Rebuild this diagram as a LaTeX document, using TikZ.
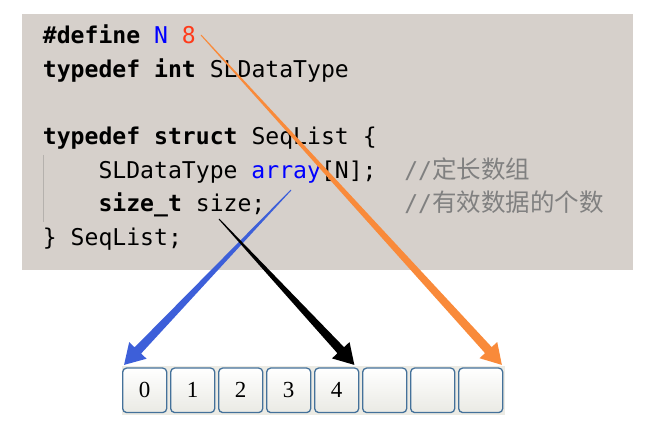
\documentclass[tikz,border=0pt]{standalone}
\usepackage{fontspec}
\setmonofont{DejaVu Sans Mono}
\newfontfamily\cjk{Noto Sans CJK SC}
\newfontfamily\digitfont{Liberation Serif}
\usetikzlibrary{calc}
\definecolor{panel}{HTML}{D6D0CB}
\definecolor{guide}{HTML}{B5B1AD}
\definecolor{kwblue}{HTML}{0000FF}
\definecolor{numred}{HTML}{FF3A1A}
\definecolor{cmtgray}{HTML}{808080}
\definecolor{arrorange}{HTML}{F98A3A}
\definecolor{arrblue}{HTML}{3D5FD9}
\definecolor{cellborder}{HTML}{44719A}
\definecolor{cellbot}{HTML}{EAEAE4}
\definecolor{stripbg}{HTML}{ECEBE4}
\newcommand\taperarrow[3]{%
  \coordinate (hb) at ($(#2)!20pt!(#1)$);
  \fill[#3] ($(#1)!0.5pt!90:(#2)$) -- ($(hb)!4.5pt!90:(#2)$) -- ($(hb)!12pt!90:(#2)$) -- (#2)
    -- ($(hb)!12pt!-90:(#2)$) -- ($(hb)!4.5pt!-90:(#2)$) -- ($(#1)!0.5pt!-90:(#2)$) -- cycle;
}
\tikzset{
  code/.style={anchor=base west, inner sep=0pt, font=\ttfamily\fontsize{23.1}{28}\selectfont},
  cmt/.style={code, text=cmtgray},
  cell/.style={draw=cellborder, line width=1.3pt, rounded corners=4pt, top color=white, bottom color=cellbot,
    minimum width=44pt, minimum height=44.5pt, inner sep=0pt, font=\digitfont\fontsize{23}{26}\selectfont}
}
\begin{document}
\begin{tikzpicture}[x=1pt,y=-1pt]
\useasboundingbox (0,0) rectangle (664,443);
\fill[white] (0,0) rectangle (664,443);
\fill[panel] (22,14) rectangle (633,270);
\draw[guide, line width=1.3pt] (43.3,155) -- (43.3,222);
% code lines
\node[code] (l1) at (42.7,43.5) {\textbf{\#define} {\color{kwblue}N} {\color{numred}8}};
\node[code] (l2) at (42.7,77.2) {\textbf{typedef int} SLDataType};
\node[code] (l4) at (42.7,144.5) {\textbf{typedef struct} SeqList \{};
\node[code] (l5) at ({42.7+13.9*4},178.2) {SLDataType {\color{kwblue}array}[N];};
\node[cmt] (c5) at ({42.7+13.9*26},178.2) {//{\cjk\fontsize{24.5}{28}\selectfont 定长数组}};
\node[code] (l6) at ({42.7+13.9*4},211.9) {\textbf{size\_t} size;};
\node[cmt] (c6) at ({42.7+13.9*26},211.9) {//{\cjk\fontsize{24.5}{28}\selectfont 有效数据的个数}};
\node[code] (l7) at (42.7,245.6) {\} SeqList;};
% array
\fill[stripbg] (121.5,366) rectangle (505,415);
\foreach \i/\t in {0/0,1/1,2/2,3/3,4/4,5/{},6/{},7/{}} {
  \node[cell] (b\i) at ({144.7+48*\i},390.3) {\raisebox{-2pt}{\t}};
}
% arrow anchors
\coordinate (sO) at (201,35);
\coordinate (sB) at (291,190);
\coordinate (sK) at (219,219);
\coordinate (tO) at ($(b7.north east)+(-1.5,-2.5)$);
\coordinate (tB) at ($(b0.north west)+(2,-2.5)$);
\coordinate (tK) at ($(b4.north east)+(-5,-2.5)$);
\taperarrow{sO}{tO}{arrorange}
\taperarrow{sB}{tB}{arrblue}
\taperarrow{sK}{tK}{black}
\end{tikzpicture}
\end{document}
